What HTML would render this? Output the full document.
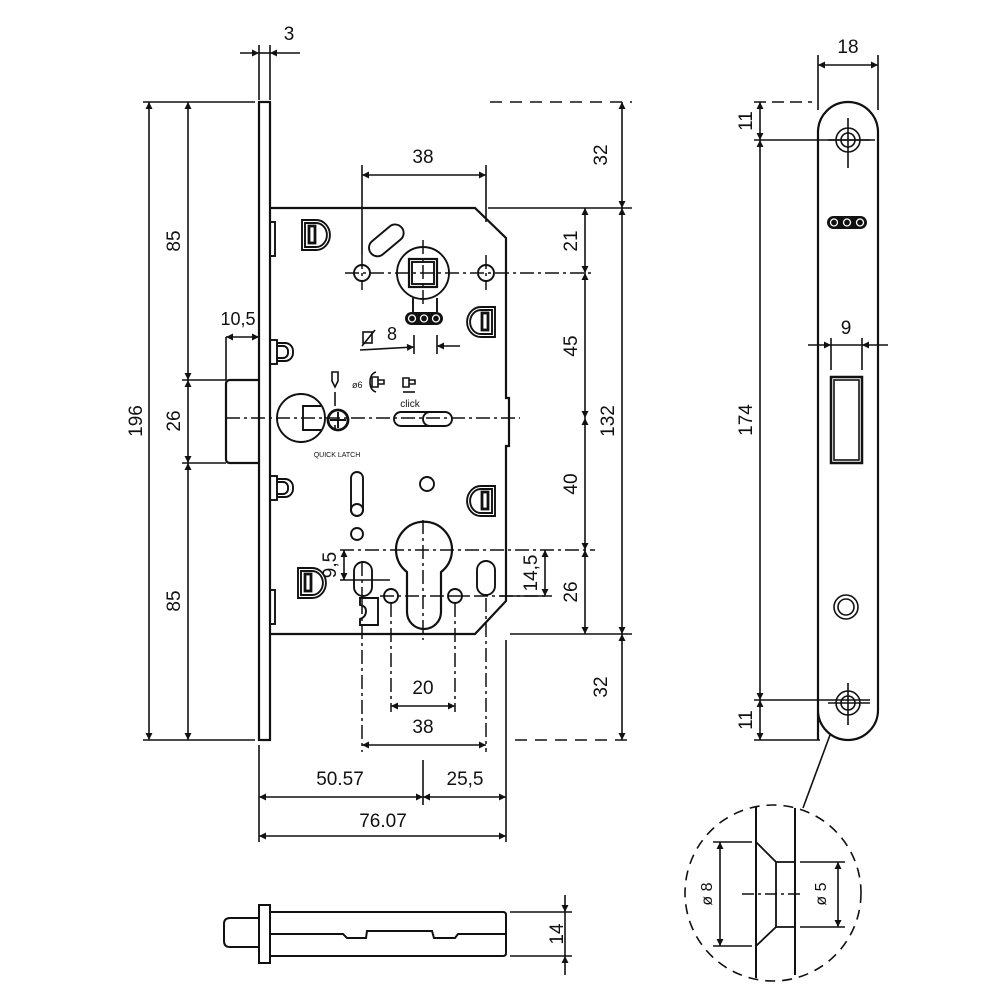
<!DOCTYPE html>
<html><head><meta charset="utf-8"><style>
html,body{margin:0;padding:0;background:#fff;}
svg{display:block;}
text{font-family:"Liberation Sans",sans-serif;fill:#111;}
</style></head><body>
<svg width="1000" height="1000" viewBox="0 0 1000 1000" xmlns="http://www.w3.org/2000/svg">
<defs>
<marker id="a" viewBox="0 0 10 10" refX="10" refY="5" markerWidth="12" markerHeight="7" orient="auto-start-reverse" markerUnits="userSpaceOnUse"><path d="M0,0L10,5L0,10z" fill="#111"/></marker>
</defs>
<g fill="none" stroke="#111" stroke-width="1.9">
<rect x="259" y="102" width="11" height="638" stroke-width="2.2"/>
<path d="M259,380H230Q226,380 226,384V459Q226,463 230,463H259" stroke-width="2.2"/>
<path d="M270,208H475L506,238V398H509V446H506V601L475,634H270" stroke-width="2.2"/>
<rect x="270" y="222" width="5" height="34"/><rect x="270" y="590" width="5" height="34"/>
<rect x="270" y="340" width="7" height="24"/><path d="M277,343h8a8,8 0 0 1 8,8v2a8,8 0 0 1 -8,8h-8"/><path d="M277,346h6a5,5 0 0 1 5,5v2a5,5 0 0 1 -5,5h-6"/>
<rect x="270" y="476" width="7" height="24"/><path d="M277,479h8a8,8 0 0 1 8,8v2a8,8 0 0 1 -8,8h-8"/><path d="M277,482h6a5,5 0 0 1 5,5v2a5,5 0 0 1 -5,5h-6"/>
<g><path d="M302,220h14a13,14 0 0 1 0,30h-14z"/><path d="M305,223h11a10,11 0 0 1 0,24h-11z"/><rect x="309" y="226" width="6" height="17" stroke-width="2.8"/></g>
<g transform="translate(-4,348)"><path d="M302,220h14a13,14 0 0 1 0,30h-14z"/><path d="M305,223h11a10,11 0 0 1 0,24h-11z"/><rect x="309" y="226" width="6" height="17" stroke-width="2.8"/></g>
<g transform="translate(795,0) scale(-1,1)"><g transform="translate(-2,87)"><path d="M302,220h14a13,14 0 0 1 0,30h-14z"/><path d="M305,223h11a10,11 0 0 1 0,24h-11z"/><rect x="309" y="226" width="6" height="17" stroke-width="2.8"/></g>
<g transform="translate(-2,266)"><path d="M302,220h14a13,14 0 0 1 0,30h-14z"/><path d="M305,223h11a10,11 0 0 1 0,24h-11z"/><rect x="309" y="226" width="6" height="17" stroke-width="2.8"/></g></g>
<rect x="366" y="232" width="40" height="17" rx="8.5" transform="rotate(-40 386 240)"/>
<circle cx="423" cy="273" r="26"/>
<rect x="409" y="259" width="28" height="28" stroke-width="2.2"/><rect x="412" y="262" width="22" height="22"/>
<path d="M413,298L413,312M437,298L437,312"/>
<circle cx="362" cy="273" r="8"/><circle cx="486" cy="273" r="8"/>
<circle cx="301" cy="418" r="24"/><path d="M321,406H303V430H321"/>
<circle cx="338" cy="420" r="10" stroke-width="2.8"/><path d="M330,420h16M338,412v16"/>
<rect x="394" y="412" width="58" height="14" rx="7"/><path d="M430,412a7,7 0 0 0 0,14"/>
<rect x="351" y="472" width="12" height="44" rx="6"/><circle cx="357" cy="510" r="6"/>
<circle cx="427" cy="484" r="7"/><circle cx="357" cy="534" r="6"/>
<path d="M407,572A28,28 0 1 1 441,572V612A17,17 0 0 1 407,612Z" stroke-width="2.2"/>
<rect x="354" y="562" width="18" height="34" rx="9"/><rect x="477" y="561" width="18" height="34" rx="9"/>
<circle cx="391" cy="596" r="7"/><circle cx="455" cy="596" r="7"/>
<path d="M360,598h18v27h-18v-6q6,-2 6,-8q0,-5 -6,-6z"/>
<g stroke-width="1.5" stroke-dasharray="14,4,3,4">
<path d="M345,273H595"/><path d="M226,418H520"/><path d="M340,550H595"/>
<path d="M423,240V305"/><path d="M423,520V640"/>
<path d="M362,255V290M486,255V290"/>
</g>
<path d="M380,596H470M449,596H545M362,562V600" stroke-width="1.5" stroke-dasharray="14,4,3,4"/>
<g stroke-width="1.5" stroke-dasharray="14,4,3,4"><path d="M362,600V752M391,603V712M455,603V712M486,598V752"/></g>
</g>
<g fill="none" stroke="#111" stroke-width="1.6">
<path d="M259,45V100M270,45V100"/><path d="M240,53H259" marker-end="url(#a)"/><path d="M300,53H270" marker-end="url(#a)"/><path d="M259,53h11"/>
<path d="M143,102H255M143,740H255M182,380H226M182,463H226"/>
<path d="M149,102V740" marker-start="url(#a)" marker-end="url(#a)"/>
<path d="M188,102V380" marker-start="url(#a)" marker-end="url(#a)"/>
<path d="M188,380V463" marker-start="url(#a)" marker-end="url(#a)"/>
<path d="M188,463V740" marker-start="url(#a)" marker-end="url(#a)"/>
<path d="M226,337V380"/><path d="M226,337H259" marker-start="url(#a)" marker-end="url(#a)"/>
<path d="M362,165V255M486,165V222"/><path d="M362,175H486" marker-start="url(#a)" marker-end="url(#a)"/>
<path d="M414,335V354M437,335V354"/><path d="M360,350L414,347" marker-end="url(#a)"/><path d="M460,346H437" marker-end="url(#a)"/>
<path d="M490,102H632" stroke-dasharray="12,8"/><path d="M515,740H632" stroke-dasharray="12,8"/>
<path d="M488,208H632M510,634H632"/>
<path d="M585,208V273" marker-start="url(#a)" marker-end="url(#a)"/>
<path d="M585,273V418" marker-start="url(#a)" marker-end="url(#a)"/>
<path d="M585,418V550" marker-start="url(#a)" marker-end="url(#a)"/>
<path d="M585,550V634" marker-start="url(#a)" marker-end="url(#a)"/>
<path d="M622,102V208" marker-start="url(#a)" marker-end="url(#a)"/>
<path d="M622,208V634" marker-start="url(#a)" marker-end="url(#a)"/>
<path d="M622,634V740" marker-start="url(#a)" marker-end="url(#a)"/>
<path d="M545,550V596" marker-start="url(#a)" marker-end="url(#a)"/><path d="M500,596H552"/>
<path d="M344,550V580" marker-start="url(#a)" marker-end="url(#a)"/><path d="M340,580H390"/>
<path d="M391,706H455" marker-start="url(#a)" marker-end="url(#a)"/>
<path d="M362,745H486" marker-start="url(#a)" marker-end="url(#a)"/>
<path d="M259,745V842M423,760V805M506,640V842"/>
<path d="M259,797H423" marker-start="url(#a)" marker-end="url(#a)"/>
<path d="M423,797H506" marker-start="url(#a)" marker-end="url(#a)"/>
<path d="M259,836H506" marker-start="url(#a)" marker-end="url(#a)"/>
</g>
<g font-size="19" text-anchor="middle">
<text x="289" y="40">3</text>
<text x="423" y="163">38</text>
<text x="238" y="325" font-size="18">10,5</text>
<text x="423" y="694">20</text>
<text x="423" y="733">38</text>
<text x="340" y="785">50.57</text>
<text x="465" y="785">25,5</text>
<text x="383" y="827">76.07</text>
<text x="392" y="340" font-size="18">8</text>
<text transform="translate(142,421) rotate(-90)">196</text>
<text transform="translate(180,241) rotate(-90)">85</text>
<text transform="translate(180,421) rotate(-90)">26</text>
<text transform="translate(180,601) rotate(-90)">85</text>
<text transform="translate(607,155) rotate(-90)">32</text>
<text transform="translate(607,687) rotate(-90)">32</text>
<text transform="translate(577,241) rotate(-90)">21</text>
<text transform="translate(577,346) rotate(-90)">45</text>
<text transform="translate(577,484) rotate(-90)">40</text>
<text transform="translate(577,592) rotate(-90)">26</text>
<text transform="translate(614,421) rotate(-90)">132</text>
<text transform="translate(537,573) rotate(-90)">14,5</text>
<text transform="translate(336,565) rotate(-90)">9,5</text>
<text x="848" y="53">18</text>
<text x="846" y="334">9</text>
<text transform="translate(752,121) rotate(-90)">11</text>
<text transform="translate(752,420) rotate(-90)">174</text>
<text transform="translate(752,720) rotate(-90)">11</text>
<text transform="translate(563,934) rotate(-90)">14</text>
<text transform="translate(712,894) rotate(-90)" font-size="16">ø 8</text>
<text transform="translate(826,894) rotate(-90)" font-size="16">ø 5</text>
</g>
<text x="352" y="388" font-size="9">ø6</text>
<text x="410" y="407" font-size="10" text-anchor="middle">click</text>
<text x="337" y="457" font-size="7" text-anchor="middle">QUICK LATCH</text>
<!-- logos filled -->
<rect x="405" y="312" width="38" height="13" rx="6.5" fill="#111"/>
<g fill="none" stroke="#fff" stroke-width="1.3"><circle cx="412" cy="318.5" r="3.5"/><circle cx="424" cy="318.5" r="3.5"/><circle cx="436" cy="318.5" r="3.5"/></g>
<rect x="827" y="216" width="40" height="13" rx="6.5" fill="#111"/>
<g fill="none" stroke="#fff" stroke-width="1.3"><circle cx="834" cy="222.5" r="3.5"/><circle cx="847" cy="222.5" r="3.5"/><circle cx="860" cy="222.5" r="3.5"/></g>
<g fill="none" stroke="#111" stroke-width="1.6">
<rect x="363" y="332" width="9" height="11"/><path d="M375,330L362,346"/>
<path d="M332,372h6v9l-3,6l-3,-6z"/><path d="M335,392v14"/><path d="M335,430v-5"/>
<path d="M376,372q-6,2 -6,10q0,8 6,10"/><path d="M372,377h6v10h-6zM378,380h6v4h-6z"/>
<path d="M403,378h6v9h-6zM409,380h6v4h-6z"/><path d="M403,392h12"/>
<path d="M818,740V132A30,30 0 0 1 878,132V710A30,30 0 0 1 818,710" stroke-width="2.2"/>
<path d="M818,55V110M878,55V110"/><path d="M818,65H878" marker-start="url(#a)" marker-end="url(#a)"/>
<path d="M754,102H812" stroke-dasharray="12,6"/><path d="M754,140H875M754,700H870M754,740H820"/>
<path d="M760,102V140" marker-start="url(#a)" marker-end="url(#a)"/>
<path d="M760,140V700" marker-start="url(#a)" marker-end="url(#a)"/>
<path d="M760,700V740" marker-start="url(#a)" marker-end="url(#a)"/>
<circle cx="848" cy="140" r="12"/><circle cx="848" cy="140" r="7"/><path d="M848,118V168M828,140H870"/>
<circle cx="848" cy="703" r="12"/><circle cx="848" cy="703" r="7"/><path d="M848,683V725M828,703H870"/>
<path d="M831,338V370M862,338V370"/><path d="M808,345H831" marker-end="url(#a)"/><path d="M888,345H862" marker-end="url(#a)"/><path d="M831,345H862"/>
<rect x="831" y="377" width="31" height="86" stroke-width="2.5"/><rect x="834" y="380" width="25" height="80"/>
<circle cx="846" cy="607" r="12"/><circle cx="846" cy="607" r="8"/>
<path d="M830,735L803,808"/>
<circle cx="773" cy="893" r="88" stroke-dasharray="10,7"/>
<path d="M756,806V978M795,808V975" stroke-width="2"/>
<path d="M713,842H752M713,946H752M800,862H845M800,927H845"/>
<path d="M756,842L776,862V927L756,946M776,862H795M776,927H795" stroke-width="1.8"/>
<path d="M720,842V946" marker-start="url(#a)" marker-end="url(#a)"/>
<path d="M838,862V927" marker-start="url(#a)" marker-end="url(#a)"/>
<path d="M742,894H803" stroke-dasharray="12,4,3,4"/>
<rect x="259" y="905" width="11" height="58" stroke-width="2"/>
<path d="M258,918H230Q224,918 224,924V941Q224,947 230,947H258" stroke-width="2"/>
<path d="M270,912H503Q506,912 506,915V953Q506,956 503,956H270" stroke-width="2"/>
<path d="M270,934H343L347,938H366L367,931H432L434,938H455L458,934H506" stroke-width="2"/>
<path d="M510,912H572M510,956H572"/>
<path d="M565,895V912" marker-end="url(#a)"/><path d="M565,975V956" marker-end="url(#a)"/><path d="M565,912V956"/>
</g>
</svg>
</body></html>
